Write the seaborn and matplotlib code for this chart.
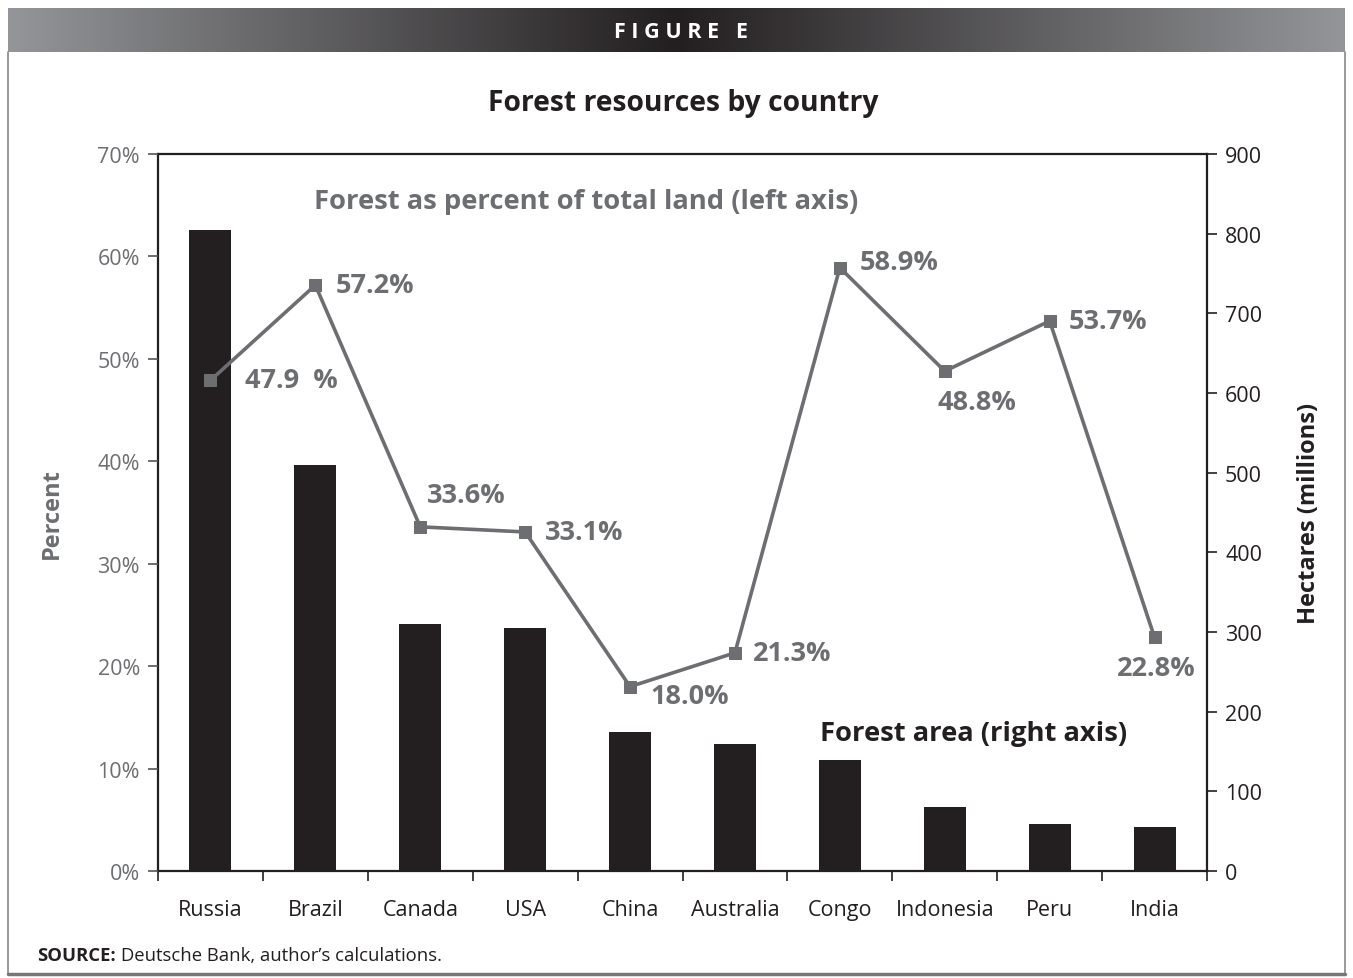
import numpy as np
import matplotlib
matplotlib.use("Agg")
import matplotlib.pyplot as plt
import seaborn as sns
from matplotlib.ticker import PercentFormatter, FixedLocator
from matplotlib.colors import LinearSegmentedColormap

countries = ["Russia", "Brazil", "Canada", "USA", "China", "Australia",
             "Congo", "Indonesia", "Peru", "India"]
hectares = [805, 509, 310, 305, 174, 159, 139, 80, 59, 55]
pct = [47.9, 57.2, 33.6, 33.1, 18.0, 21.3, 58.9, 48.8, 53.7, 22.8]
pct_labels = ["47.9  %", "57.2%", "33.6%", "33.1%", "18.0%", "21.3%",
              "58.9%", "48.8%", "53.7%", "22.8%"]
left_ticks = [0, 10, 20, 30, 40, 50, 60, 70]
right_ticks = [0, 100, 200, 300, 400, 500, 600, 700, 800, 900]

sns.set_theme(style="white")
plt.rcParams["font.family"] = ["Open Sans", "DejaVu Sans"]

W, H = 1353, 979
fig = plt.figure(figsize=(W / 100, H / 100), dpi=100)

BAR = "#231f20"
GRAY = "#6d6e71"

# header band with gradient
hax = fig.add_axes([8 / W, 1 - 53 / H, (1345 - 8) / W, 44 / H])
cmap = LinearSegmentedColormap.from_list("hdr", ["#939598", "#231f20", "#939598"])
grad = np.linspace(0, 1, 512).reshape(1, -1)
hax.imshow(grad, aspect="auto", cmap=cmap, extent=[0, 1, 0, 1])
hax.set_axis_off()
fig.text(681 / W, 1 - 32 / H, "F I G U R E   E", color="white", fontsize=15.5,
         fontweight="bold", ha="center", va="center")

# border
fig.add_artist(plt.Line2D([8 / W, 8 / W], [1 - 53 / H, 1 - 975 / H], color="#888888", lw=1.2))
fig.add_artist(plt.Line2D([1345 / W, 1345 / W], [1 - 53 / H, 1 - 975 / H], color="#888888", lw=1.2))
fig.add_artist(plt.Line2D([8 / W, 1345 / W], [1 - 975 / H, 1 - 975 / H], color="#777777", lw=2.5))

# main axes: bars (hectares, right axis)
ax = fig.add_axes([158 / W, 1 - 872 / H, (1207 - 158) / W, (872 - 155) / H])
sns.barplot(x=countries, y=hectares, color=BAR, saturation=1, width=0.4, ax=ax,
            edgecolor="none", zorder=2)
ax2 = ax.twinx()

ax.set_xlim(-0.5, len(countries) - 0.5)
ax.set_ylim(0, 900)
ax.yaxis.set_major_locator(FixedLocator(right_ticks))
ax.yaxis.tick_right()
ax.yaxis.set_label_position("right")
ax.set_ylabel("Hectares (millions)", fontsize=17, fontweight="bold", color=BAR, labelpad=25)
ax.set_xlabel("")
ax.tick_params(axis="y", which="both", direction="out", length=7, width=1.2,
               color=BAR, labelcolor=BAR, labelsize=15.5, pad=6, right=True, left=False,
               labelright=True, labelleft=False)
ax.set_xticks(range(len(countries)))
ax.set_xticklabels(countries)
ax.xaxis.set_minor_locator(FixedLocator(np.arange(-0.5, len(countries), 1.0)))
ax.tick_params(axis="x", which="major", length=0, labelsize=15.5, labelcolor=BAR, pad=20)
ax.tick_params(axis="x", which="minor", direction="out", length=7, width=1.2,
               color=BAR, bottom=True)
for s in ax.spines.values():
    s.set_color(BAR)
    s.set_linewidth(1.6)

# twin axis: line (percent, left axis)
sns.lineplot(x=np.arange(len(countries)), y=pct, ax=ax2, color=GRAY, lw=2.6,
             marker="s", markersize=9, markeredgecolor=GRAY, markerfacecolor=GRAY)
ax2.set_xlim(-0.5, len(countries) - 0.5)
ax2.set_ylim(0, 70)
ax2.yaxis.set_major_locator(FixedLocator(left_ticks))
ax2.yaxis.set_major_formatter(PercentFormatter(decimals=0))
ax2.yaxis.tick_left()
ax2.yaxis.set_label_position("left")
ax2.set_ylabel("Percent", fontsize=17, fontweight="bold", color=GRAY, labelpad=24)
ax2.tick_params(axis="y", direction="out", length=7, width=1.2, color="#555555",
                labelcolor=GRAY, labelsize=15.5, pad=6, left=True, right=False,
                labelleft=True, labelright=False)
for s in ax2.spines.values():
    s.set_visible(False)

# data labels (offsets in points)
offsets = [((25, 0), "left"), ((15, 0), "left"), ((33, 23), "center"), ((14, 0), "left"),
           ((15, -7), "left"), ((13, 0), "left"), ((14, 4), "left"), ((23, -22), "center"),
           ((14, 0), "left"), ((1, -22), "center")]
for i, (lab, ((dx, dy), ha)) in enumerate(zip(pct_labels, offsets)):
    ax2.annotate(lab, (i, pct[i]), xytext=(dx, dy), textcoords="offset points",
                 ha=ha, va="center", fontsize=19.5, fontweight="bold", color=GRAY)

ax2.text(314 / W, 1 - 202 / H, "Forest as percent of total land (left axis)",
         transform=fig.transFigure, fontsize=19.7, fontweight="bold", color=GRAY,
         ha="left", va="center")
ax2.text(820 / W, 1 - 734 / H, "Forest area (right axis)", transform=fig.transFigure,
         fontsize=19.7, fontweight="bold", color=BAR, ha="left", va="center")

fig.text(683 / W, 1 - 103 / H, "Forest resources by country", fontsize=20.3,
         fontweight="bold", color=BAR, ha="center", va="center")

# source
t1 = fig.text(37 / W, 1 - 956 / H, "SOURCE:", fontsize=13.3, fontweight="bold",
              color=BAR, ha="left", va="center")
fig.canvas.draw()
bb = t1.get_window_extent(renderer=fig.canvas.get_renderer())
fig.text((bb.x1 + 5) / W, 1 - 956 / H, "Deutsche Bank, author\u2019s calculations.",
         fontsize=13.3, color=BAR, ha="left", va="center")

fig.savefig("out.png", dpi=100)
